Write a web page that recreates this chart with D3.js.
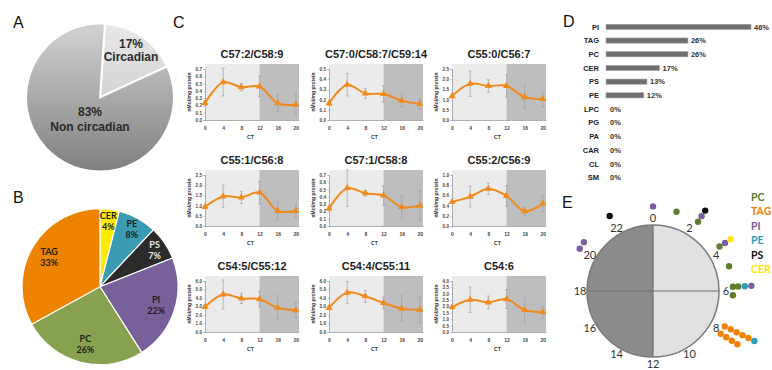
<!DOCTYPE html>
<html>
<head>
<meta charset="utf-8">
<script src="https://cdn.jsdelivr.net/npm/d3@7"></script>
<style>
  body { margin: 0; background: #fff; }
  svg { display: block; }
  text { font-family: "Liberation Sans", Arial, sans-serif; }
</style>
</head>
<body>
<svg id="fig" width="772" height="370"></svg>
<script>
// ---- panel A: circadian share
const circNames = ["Circadian", "Non circadian"];
const circValues = [17, 83];

// ---- panel B: lipid classes among circadian lipids
const classNames = ["CER", "PE", "PS", "PI", "PC", "TAG"];
const classShares = [4, 8, 7, 22, 26, 33];
const pieColors = ["#ffeb00", "#3a9bb2", "#2b2b2b", "#78609b", "#88a150", "#ee8300"];

// ---- panel C: TAG species over circadian time
const ctHours = [0, 4, 8, 12, 16, 20];
const lipidTitles = ["C57:2/C58:9", "C57:0/C58:7/C59:14", "C55:0/C56:7",
                     "C55:1/C56:8", "C57:1/C58:8", "C55:2/C56:9",
                     "C54:5/C55:12", "C54:4/C55:11", "C54:6"];
const lipidMeans = [
  [0.23, 0.52, 0.45, 0.46, 0.23, 0.21],
  [0.163, 0.346, 0.26, 0.255, 0.19, 0.157],
  [1.17, 1.78, 1.67, 1.67, 1.12, 1.03],
  [0.94, 1.45, 1.40, 1.64, 0.74, 0.74],
  [0.24, 0.52, 0.45, 0.42, 0.26, 0.28],
  [0.47, 0.575, 0.73, 0.59, 0.29, 0.44],
  [2.96, 4.42, 3.95, 3.87, 2.85, 2.57],
  [2.83, 4.63, 4.2, 3.42, 2.75, 2.63],
  [1.94, 2.53, 2.32, 2.58, 1.73, 1.55]
];
const lipidErrors = [
  [0.02, 0.19, 0.05, 0.14, 0.12, 0.14],
  [0.01, 0.11, 0.05, 0.08, 0.065, 0.05],
  [0.05, 0.62, 0.3, 0.55, 0.55, 0.38],
  [0.05, 0.55, 0.3, 0.55, 0.43, 0.3],
  [0.02, 0.25, 0.04, 0.13, 0.15, 0.2],
  [0.03, 0.2, 0.11, 0.2, 0.08, 0.16],
  [0.1, 1.7, 0.6, 0.9, 1.4, 0.85],
  [0.1, 1.3, 0.7, 0.7, 1.5, 1.5],
  [0.05, 1.0, 0.5, 0.74, 0.95, 0.43]
];
const lipidYMax = [0.7, 0.5, 2.5, 2.5, 0.7, 1.0, 6, 6, 4];
const lipidYStep = [0.1, 0.1, 0.5, 0.5, 0.1, 0.2, 1, 1, 0.5];

// ---- panel D: percent circadian per class
const barClasses = ["PI", "TAG", "PC", "CER", "PS", "PE", "LPC", "PG", "PA", "CAR", "CL", "SM"];
const barPercents = [46, 26, 26, 17, 13, 12, 0, 0, 0, 0, 0, 0];

// ---- panel E: peak phases
const clockHours = [0, 2, 4, 6, 8, 10, 12, 14, 16, 18, 20, 22];
const peakClass = ["PI", "PC", "PC", "PI", "PS", "PC", "PI", "CER", "PC",
                   "PC", "PC", "PE", "PI", "PC",
                   "TAG", "TAG", "TAG", "TAG", "TAG", "PE",
                   "TAG", "TAG", "TAG", "TAG",
                   "PI", "PI", "PS"];
const peakHour = [0, 1.1, 2.2, 2.2, 2.2, 3.75, 3.75, 3.75, 4.8,
                  5.8, 5.8, 5.8, 5.8, 6.2,
                  7.75, 7.75, 7.75, 7.75, 7.75, 7.75,
                  8.15, 8.15, 8.15, 8.15,
                  20.0, 20.35, 22.0];
const peakStack = [0.7, 0.4, 0.4, 1.4, 2.4, 0, 1, 2, 0,
                   0, 0.8, 1.8, 2.8, 0,
                   0, 1, 2, 3, 4, 5,
                   0, 1, 2, 3,
                   0.7, 0.7, 1];
const legendClasses = ["PC", "TAG", "PI", "PE", "PS", "CER"];
const dotColors = { PC: "#5f7d2b", TAG: "#f08300", PI: "#7a5ea2", PE: "#2f9fb8", PS: "#111111", CER: "#ffe400" };

const svg = d3.select("#fig");
svg.append("rect").attr("width", 772).attr("height", 370).attr("fill", "#fff");

// panel letters
[["A", 13, 28], ["B", 13, 203], ["C", 173, 28], ["D", 563, 27], ["E", 562, 208]].forEach(l => {
  svg.append("text").attr("x", l[1]).attr("y", l[2])
    .style("font-size", "16px").attr("fill", "#111").text(l[0]);
});

// ================= A =================
const defs = svg.append("defs");
const gradBig = defs.append("linearGradient").attr("id", "gradBig")
  .attr("x1", 0).attr("y1", 0).attr("x2", 0).attr("y2", 1);
gradBig.append("stop").attr("offset", "0%").attr("stop-color", "#d3d3d3");
gradBig.append("stop").attr("offset", "100%").attr("stop-color", "#7f7f7f");
const gradSmall = defs.append("linearGradient").attr("id", "gradSmall")
  .attr("x1", 0).attr("y1", 0).attr("x2", 0).attr("y2", 1);
gradSmall.append("stop").attr("offset", "0%").attr("stop-color", "#e8e8e8");
gradSmall.append("stop").attr("offset", "100%").attr("stop-color", "#d4d4d4");

const pieA = d3.pie().sort(null).startAngle(0.068).endAngle(0.068 + 2 * Math.PI);
const arcA = d3.arc().innerRadius(0).outerRadius(74);
const gA = svg.append("g").attr("transform", "translate(100,97.5)");
gA.selectAll("path").data(pieA(circValues)).join("path")
  .attr("d", arcA)
  .attr("fill", (d, i) => i === 0 ? "url(#gradSmall)" : "url(#gradBig)")
  .attr("stroke", "#fff").attr("stroke-width", 2);
const aLabels = [[31, -50, 31, -37], [-10, 18.5, -10, 33.5]];
circValues.forEach((v, i) => {
  const p = aLabels[i];
  gA.append("text").attr("x", p[0]).attr("y", p[1]).attr("text-anchor", "middle")
    .style("font-size", "12px").style("font-weight", "bold").attr("fill", "#2b2b2b").text(v + "%");
  gA.append("text").attr("x", p[2]).attr("y", p[3]).attr("text-anchor", "middle")
    .style("font-size", "12px").style("font-weight", "bold").attr("fill", "#2b2b2b").text(circNames[i]);
});

// ================= B =================
const pieB = d3.pie().sort(null);
const arcB = d3.arc().innerRadius(0).outerRadius(78);
const gB = svg.append("g").attr("transform", "translate(100,286.7)");
const slicesB = pieB(classShares);
gB.selectAll("path").data(slicesB).join("path")
  .attr("d", arcB)
  .attr("fill", (d, i) => pieColors[i])
  .attr("stroke", "#fff").attr("stroke-width", 1.2);
slicesB.forEach((d, i) => {
  const r = (d.endAngle - d.startAngle) > 1 ? 59 : 66;
  const c = d3.arc().innerRadius(r).outerRadius(r).centroid(d);
  const col = classNames[i] === "PS" ? "#e6e6e6" : "#1e1e1e";
  gB.append("text").attr("x", c[0]).attr("y", c[1] - 2).attr("text-anchor", "middle")
    .style("font-family", "Lato").style("font-size", "9px").style("font-weight", "bold")
    .attr("fill", col).text(classNames[i]);
  gB.append("text").attr("x", c[0]).attr("y", c[1] + 9).attr("text-anchor", "middle")
    .style("font-family", "Lato").style("font-size", "9px").style("font-weight", "bold")
    .attr("fill", col).text(classShares[i] + "%");
});

// ================= C =================
const colX0 = [205, 329, 452];
const rowTop = [64, 170, 276];
const plotH = 56;
const fmt1 = d3.format(".1f");

lipidTitles.forEach((title, i) => {
  const col = i % 3, row = Math.floor(i / 3);
  const x0 = colX0[col], top = rowTop[row], bottom = top + plotH;
  const x = d3.scaleLinear().domain([0, 20.7]).range([x0, x0 + 94]);
  const y = d3.scaleLinear().domain([0, lipidYMax[i]]).range([bottom, top + 5]);
  const g = svg.append("g");

  g.append("rect").attr("x", x(0)).attr("y", top).attr("width", x(12) - x(0)).attr("height", plotH)
    .attr("fill", "#ebebeb");
  g.append("rect").attr("x", x(12)).attr("y", top).attr("width", x(20.7) - x(12)).attr("height", plotH)
    .attr("fill", "#bebebe");

  const yTicks = d3.range(0, lipidYMax[i] + 1e-9, lipidYStep[i]);
  const ya = g.append("g").attr("transform", `translate(${x0},0)`)
    .call(d3.axisLeft(y).tickValues(yTicks).tickFormat(fmt1).tickSize(1.5).tickPadding(1.5));
  const xa = g.append("g").attr("transform", `translate(0,${bottom})`)
    .call(d3.axisBottom(x).tickValues(ctHours).tickSize(0).tickPadding(6));
  [ya, xa].forEach(a => {
    a.select(".domain").attr("stroke", "#9a9a9a").attr("stroke-width", 0.8);
    a.selectAll(".tick line").attr("stroke", "#9a9a9a").attr("stroke-width", 0.6);
    a.selectAll("text").style("font-size", "4.6px").style("font-weight", "bold").attr("fill", "#444");
  });
  xa.selectAll("text").style("font-size", "5px");

  g.append("text").attr("transform", `translate(${x0 - 14},${(top + bottom) / 2}) rotate(-90)`)
    .attr("text-anchor", "middle").style("font-size", "5px").style("font-weight", "bold")
    .attr("fill", "#333").text("nMol/mg protein");
  g.append("text").attr("x", x(10)).attr("y", bottom + 19).attr("text-anchor", "middle")
    .style("font-size", "5px").style("font-weight", "bold").attr("fill", "#333").text("CT");
  g.append("text").attr("x", x0 + 47).attr("y", top - 6).attr("text-anchor", "middle")
    .style("font-size", "11px").style("font-weight", "bold").attr("fill", "#1e1e1e").text(title);

  const pts = ctHours.map((h, k) => ({ h: h, m: lipidMeans[i][k], e: lipidErrors[i][k] }));
  // error bars
  pts.forEach(p => {
    g.append("line").attr("x1", x(p.h)).attr("x2", x(p.h)).attr("y1", y(p.m - p.e)).attr("y2", y(p.m + p.e))
      .attr("stroke", "#a0a0a0").attr("stroke-width", 0.7);
    [p.m - p.e, p.m + p.e].forEach(v => {
      g.append("line").attr("x1", x(p.h) - 1.5).attr("x2", x(p.h) + 1.5).attr("y1", y(v)).attr("y2", y(v))
        .attr("stroke", "#a0a0a0").attr("stroke-width", 0.7);
    });
  });
  g.append("path").datum(pts)
    .attr("fill", "none").attr("stroke", "#f08a1c").attr("stroke-width", 2)
    .attr("d", d3.line().curve(d3.curveCatmullRom.alpha(0.5)).x(d => x(d.h)).y(d => y(d.m)));
  g.selectAll(".tri").data(pts).join("path")
    .attr("transform", d => `translate(${x(d.h)},${y(d.m)})`)
    .attr("d", d3.symbol().type(d3.symbolTriangle).size(22))
    .attr("fill", "#f08a1c");
});

// ================= D =================
const xD = d3.scaleLinear().domain([0, 46]).range([606, 751]);
const yD = d3.scaleBand().domain(barClasses).range([20, 184.4]);
const gD = svg.append("g");
barClasses.forEach((c, i) => {
  const cy = yD(c) + yD.bandwidth() / 2;
  if (barPercents[i] > 0) {
    gD.append("rect").attr("x", xD(0)).attr("y", cy - 2.6)
      .attr("width", xD(barPercents[i]) - xD(0)).attr("height", 5.2)
      .attr("fill", "#6f6f6f").attr("stroke", "#a5a5a5").attr("stroke-width", 0.6);
  }
  gD.append("text").attr("x", 599).attr("y", cy + 2.7).attr("text-anchor", "end")
    .style("font-size", "7.5px").style("font-weight", "bold").attr("fill", "#222").text(c);
  gD.append("text").attr("x", xD(barPercents[i]) + (barPercents[i] > 0 ? 3 : 4)).attr("y", cy + 2.7)
    .style("font-size", "7.5px").style("font-weight", "bold").attr("fill", "#333").text(barPercents[i] + "%");
});

// ================= E =================
const cxE = 653, cyE = 291, RE = 66;
const ang = d3.scaleLinear().domain([0, 24]).range([0, 2 * Math.PI]);
const rad = d3.scaleLinear().domain([0, 1]).range([80, 86.6]);
const gE = svg.append("g").attr("transform", `translate(${cxE},${cyE})`);
const half = d3.arc().innerRadius(0).outerRadius(RE);
gE.append("path").attr("d", half({ startAngle: 0, endAngle: Math.PI })).attr("fill", "#e1e1e1");
gE.append("path").attr("d", half({ startAngle: Math.PI, endAngle: 2 * Math.PI })).attr("fill", "#8b8b8b");
gE.append("line").attr("x1", 0).attr("x2", 0).attr("y1", -RE).attr("y2", RE).attr("stroke", "#707070").attr("stroke-width", 1.2);
gE.append("line").attr("x1", -RE).attr("x2", RE).attr("y1", 0).attr("y2", 0).attr("stroke", "#707070").attr("stroke-width", 1.2);
gE.append("circle").attr("r", RE).attr("fill", "none").attr("stroke", "#7a7a7a").attr("stroke-width", 1.5);
clockHours.forEach(h => {
  const a = ang(h);
  gE.append("text").attr("x", 73 * Math.sin(a)).attr("y", -73 * Math.cos(a) + 4)
    .attr("text-anchor", "middle").style("font-family", "Lato").style("font-size", "11px")
    .attr("fill", "#333").text(h);
});
peakClass.forEach((c, i) => {
  const a = ang(peakHour[i]), r = rad(peakStack[i]);
  gE.append("circle").attr("cx", r * Math.sin(a)).attr("cy", -r * Math.cos(a)).attr("r", 3.2)
    .attr("fill", dotColors[c]);
});
// legend kept fully inside the frame
legendClasses.forEach((c, i) => {
  svg.append("text").attr("x", 751).attr("y", 201 + i * 14.4)
    .style("font-family", "Lato").style("font-size", "10.5px").style("font-weight", "bold")
    .attr("fill", dotColors[c]).text(c);
});
</script>
</body>
</html>
